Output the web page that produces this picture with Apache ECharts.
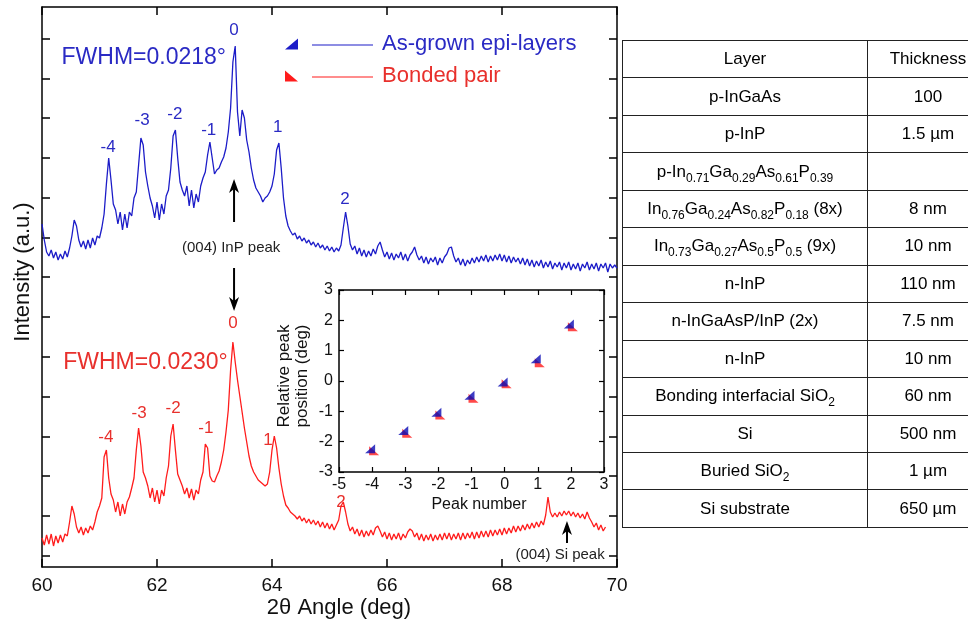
<!DOCTYPE html>
<html>
<head>
<meta charset="utf-8">
<script src="https://cdn.jsdelivr.net/npm/echarts@6/dist/echarts.min.js"></script>
<style>
  body { margin: 0; background: #fff; overflow: hidden; }
  #chart { position: absolute; left: 0; top: 0; width: 968px; height: 626px; }
  #layers { position: absolute; left: 622px; top: 40px; width: 366px; table-layout: fixed;
    border-collapse: collapse; font-family: "Liberation Sans", Arial, sans-serif; font-size: 17px; color: #000; }
  #layers td { border: 1.5px solid #222; padding: 0; text-align: center; height: 36px; white-space: nowrap; }
  #layers td:first-child { width: 244px; }
  #layers td:last-child { width: 120px; }
  #layers tr { height: 37.46px; }
  #layers sub { font-size: 12px; vertical-align: -5px; line-height: 0; }
</style>
</head>
<body>
<div id="chart"></div>
<table id="layers"></table>
<script>
// XRD scan: 2θ from 60 deg, one reading every 0.04 deg
const angleStart = 60;
const angleStep = 0.04;

// As-grown epi-layers (a.u.)
const asGrownIntensity = [
  343,327,315,311,317,309,315,307,313,308,
  316,310,319,331,347,341,327,320,326,318,
  327,319,329,322,331,329,339,353,383,409,
  387,363,357,343,355,337,353,339,355,351,
  369,375,402,429,422,395,381,369,361,349,
  365,347,363,353,371,377,399,431,437,409,
  385,377,371,381,361,377,359,373,365,381,
  389,395,412,425,409,393,397,399,405,410,
  419,435,459,505,521,455,431,457,449,427,
  415,399,387,379,375,371,365,369,371,375,
  381,393,417,424,399,369,351,341,336,332,
  334,328,331,326,329,324,327,322,325,320,
  324,319,322,317,321,316,320,315,319,316,
  322,339,355,341,323,317,321,313,319,311,
  317,310,316,311,318,313,321,325,317,310,
  315,308,314,307,313,309,315,307,313,306,
  312,315,320,312,307,311,304,310,303,309,
  305,310,302,309,304,310,313,319,320,311,
  305,309,302,308,301,307,303,309,304,310,
  305,311,306,312,305,311,306,312,307,313,
  306,312,305,311,304,310,305,309,303,309,
  302,308,301,307,300,306,301,307,299,305,
  300,306,298,304,300,305,297,304,299,305,
  297,303,298,304,296,303,299,305,297,303,
  298,304,296,303,299,304,295,303,299,302,
  299
];

// Bonded pair (a.u.)
const bondedIntensity = [
  29,22,32,23,33,21,31,24,32,25,
  33,31,45,61,53,40,34,40,32,39,
  34,41,37,45,55,61,69,110,117,89,
  73,67,55,65,51,63,53,65,70,79,
  89,117,139,121,95,89,81,69,79,65,
  77,63,77,71,89,101,131,143,117,93,
  87,81,73,79,69,78,67,77,73,87,
  95,123,119,91,86,85,91,96,105,117,
  135,157,197,225,205,187,171,155,139,125,
  111,101,95,91,87,85,83,81,83,95,
  117,131,119,99,83,71,62,59,55,53,
  51,48,51,46,49,44,48,43,47,42,
  46,40,45,39,44,38,43,37,42,47,
  61,65,55,43,36,40,33,38,31,37,
  30,36,31,37,32,39,41,36,30,35,
  28,34,27,33,28,34,27,33,29,35,
  38,36,30,34,27,33,26,32,27,33,
  26,32,27,33,27,34,28,34,27,33,
  28,34,27,34,28,34,29,35,28,35,
  29,36,30,36,30,37,31,37,32,38,
  32,39,33,39,34,41,35,41,36,42,
  37,43,38,44,39,45,40,46,42,52,
  70,55,50,54,50,55,51,56,52,56,
  51,55,50,54,49,53,48,55,49,45,
  40,44,37,42,36,40
];

const angleTicks = [60, 62, 64, 66, 68, 70];
const intensityTicks = [11, 51, 91, 130, 170, 210, 250, 290, 329, 369, 409, 449, 488, 528];

// inset: satellite peak positions relative to the InP peak
const peakNumbers = [-4, -3, -2, -1, 0, 1, 2];
const asGrownShift = [-2.23, -1.63, -1.03, -0.47, -0.03, 0.73, 1.88];
const bondedShift = [-2.30, -1.72, -1.12, -0.57, -0.09, 0.60, 1.79];

// layer table
const tableHeader = ['Layer', 'Thickness'];
const layerNames = [
  'p-InGaAs',
  'p-InP',
  'p-In<sub>0.71</sub>Ga<sub>0.29</sub>As<sub>0.61</sub>P<sub>0.39</sub>',
  'In<sub>0.76</sub>Ga<sub>0.24</sub>As<sub>0.82</sub>P<sub>0.18</sub> (8x)',
  'In<sub>0.73</sub>Ga<sub>0.27</sub>As<sub>0.5</sub>P<sub>0.5</sub> (9x)',
  'n-InP',
  'n-InGaAsP/InP (2x)',
  'n-InP',
  'Bonding interfacial SiO<sub>2</sub>',
  'Si',
  'Buried SiO<sub>2</sub>',
  'Si substrate'
];
const layerThickness = ['100', '1.5 µm', '', '8 nm', '10 nm', '110 nm', '7.5 nm', '10 nm', '60 nm', '500 nm', '1 µm', '650 µm'];

const BLUE = '#1c1cc8';
const RED = '#ff1c1c';
const FONT = '"Liberation Sans", Arial, sans-serif';

// build table
const tbl = document.getElementById('layers');
let html = '<tr><td>' + tableHeader[0] + '</td><td>' + tableHeader[1] + '</td></tr>';
layerNames.forEach((n, i) => {
  html += '<tr><td>' + n + '</td><td>' + layerThickness[i] + '</td></tr>';
});
tbl.innerHTML = html;

const toPairs = (vals) => vals.map((v, i) => [+(angleStart + i * angleStep).toFixed(2), v]);

const frameAxis = (extra) => Object.assign({
  type: 'value',
  axisLine: { show: true, onZero: false, lineStyle: { color: '#000', width: 1.5 } },
  axisTick: { show: true, inside: true, length: 8, lineStyle: { color: '#000', width: 1.5 } },
  axisLabel: { show: false },
  splitLine: { show: false }
}, extra);

const insetTick = { show: true, inside: true, length: 5, lineStyle: { color: '#000', width: 1.2 } };

const option = {
  animation: false,
  grid: [
    { left: 42, top: 7, width: 575, height: 560, outerBoundsMode: 'none' },
    { left: 339, top: 290, width: 265, height: 182, outerBoundsMode: 'none' }
  ],
  legend: {
    orient: 'vertical',
    left: 285,
    top: 33,
    itemWidth: 88,
    itemHeight: 11,
    itemGap: 10,
    padding: 0,
    selectedMode: false,
    symbolKeepAspect: false,
    textStyle: { fontSize: 22, fontFamily: FONT, padding: [0, 0, 0, 4] },
    data: [
      { name: 'As-grown epi-layers', icon: 'path://M0,11L13,11L13,0Z M27,6L88,6L88,7L27,7Z', textStyle: { color: '#2a2ac4' } },
      { name: 'Bonded pair', icon: 'path://M0,0L0,11L13,11Z M27,6L88,6L88,7L27,7Z', textStyle: { color: '#e8302c' } }
    ]
  },
  xAxis: [
    frameAxis({ gridIndex: 0, position: 'bottom', min: 60, max: 70, interval: 2,
      axisLabel: { show: true, fontSize: 19, color: '#111', fontFamily: FONT, margin: 9,
        customValues: angleTicks } }),
    frameAxis({ gridIndex: 0, position: 'top', min: 60, max: 70, interval: 2 }),
    frameAxis({ gridIndex: 1, position: 'bottom', min: -5, max: 3, interval: 1, axisTick: insetTick,
      axisLabel: { show: true, fontSize: 16, color: '#111', fontFamily: FONT, margin: 5 } }),
    frameAxis({ gridIndex: 1, position: 'top', min: -5, max: 3, interval: 1, axisTick: insetTick })
  ],
  yAxis: [
    frameAxis({ gridIndex: 0, position: 'left', min: 0, max: 560,
      axisTick: { show: true, inside: true, length: 8, customValues: intensityTicks,
        lineStyle: { color: '#000', width: 1.5 } } }),
    frameAxis({ gridIndex: 0, position: 'right', min: 0, max: 560,
      axisTick: { show: true, inside: true, length: 8, customValues: intensityTicks,
        lineStyle: { color: '#000', width: 1.5 } } }),
    frameAxis({ gridIndex: 1, position: 'left', min: -3, max: 3, interval: 1, axisTick: insetTick,
      axisLabel: { show: true, fontSize: 16, color: '#111', fontFamily: FONT, margin: 6 } }),
    frameAxis({ gridIndex: 1, position: 'right', min: -3, max: 3, interval: 1, axisTick: insetTick })
  ],
  series: [
    {
      name: 'As-grown epi-layers', type: 'line', xAxisIndex: 0, yAxisIndex: 0,
      data: toPairs(asGrownIntensity), symbol: 'none', color: BLUE,
      lineStyle: { width: 1.3, color: BLUE }
    },
    {
      name: 'Bonded pair', type: 'line', xAxisIndex: 0, yAxisIndex: 0,
      data: toPairs(bondedIntensity), symbol: 'none', color: RED,
      lineStyle: { width: 1.3, color: RED }
    },
    {
      name: 'Bonded pair', type: 'scatter', xAxisIndex: 2, yAxisIndex: 2,
      data: peakNumbers.map((n, i) => [n, bondedShift[i]]),
      symbol: 'path://M0,0L0,10L10,10Z', symbolSize: [10, 9], symbolOffset: [2, 0],
      itemStyle: { color: RED }
    },
    {
      name: 'As-grown epi-layers', type: 'scatter', xAxisIndex: 2, yAxisIndex: 2,
      data: peakNumbers.map((n, i) => [n, asGrownShift[i]]),
      symbol: 'path://M0,10L10,10L10,0Z', symbolSize: [10, 9], symbolOffset: [-2, 0],
      itemStyle: { color: '#0a0ab4' }
    }
  ]
};

const chart = echarts.init(document.getElementById('chart'));
chart.setOption(option);

// annotations in data coordinates of the main plot
const blueLabels = [['-4', 61.15, 420], ['-3', 61.74, 447], ['-2', 62.31, 453], ['-1', 62.90, 437],
  ['0', 63.34, 537], ['1', 64.10, 440], ['2', 65.27, 368]];
const redLabels = [['-4', 61.11, 130], ['-3', 61.69, 154], ['-2', 62.28, 159], ['-1', 62.85, 139],
  ['0', 63.32, 244], ['1', 63.93, 127], ['2', 65.20, 65]];

const toPx = (x, y) => chart.convertToPixel({ xAxisIndex: 0, yAxisIndex: 0 }, [x, y]);

const text = (x, y, str, size, fill, rot) => ({
  type: 'text', x: x, y: y, rotation: rot || 0, silent: true,
  style: { text: str, fill: fill, font: size + 'px ' + FONT, align: 'center', verticalAlign: 'middle',
    textAlign: 'center', textVerticalAlign: 'middle', lineHeight: size + 1 }
});

const arrow = (ax, yFrom, yTo) => {
  const a = toPx(ax, yFrom), b = toPx(ax, yTo);
  const dir = b[1] < a[1] ? 1 : -1; // 1 => tip points up
  const x = b[0], tip = b[1];
  return [
    { type: 'line', silent: true, shape: { x1: x, y1: a[1], x2: x, y2: tip + dir * 9 },
      style: { stroke: '#000', lineWidth: 2 } },
    { type: 'polygon', silent: true,
      shape: { points: [[x, tip], [x - 5, tip + dir * 14], [x, tip + dir * 10], [x + 5, tip + dir * 14]] },
      style: { fill: '#000' } }
  ];
};

const graphics = [];
blueLabels.forEach(l => { const p = toPx(l[1], l[2]); graphics.push(text(p[0], p[1], l[0], 17, '#2a2ac4')); });
redLabels.forEach(l => { const p = toPx(l[1], l[2]); graphics.push(text(p[0], p[1], l[0], 17, '#e8302c')); });

let p = toPx(61.77, 509);
graphics.push(text(p[0], p[1], 'FWHM=0.0218°', 23, '#2a2ac4'));
p = toPx(61.80, 204);
graphics.push(text(p[0], p[1], 'FWHM=0.0230°', 23, '#e8302c'));
p = toPx(63.29, 319);
graphics.push(text(p[0], p[1], '(004) InP peak', 15, '#222'));
p = toPx(69.01, 12);
graphics.push(text(p[0], p[1], '(004) Si peak', 15, '#222'));

graphics.push(...arrow(63.34, 345, 388));
graphics.push(...arrow(63.34, 299, 256));
graphics.push(...arrow(69.13, 24, 46));

// axis titles
graphics.push(text(339, 608, '2θ Angle (deg)', 22, '#111'));
graphics.push(text(23, 272, 'Intensity (a.u.)', 22, '#111', Math.PI / 2));
graphics.push(text(479, 505, 'Peak number', 16, '#111'));
graphics.push(text(293, 376, 'Relative peak\nposition (deg)', 17, '#111', Math.PI / 2));

chart.setOption({ graphic: { elements: graphics } });
</script>
</body>
</html>
